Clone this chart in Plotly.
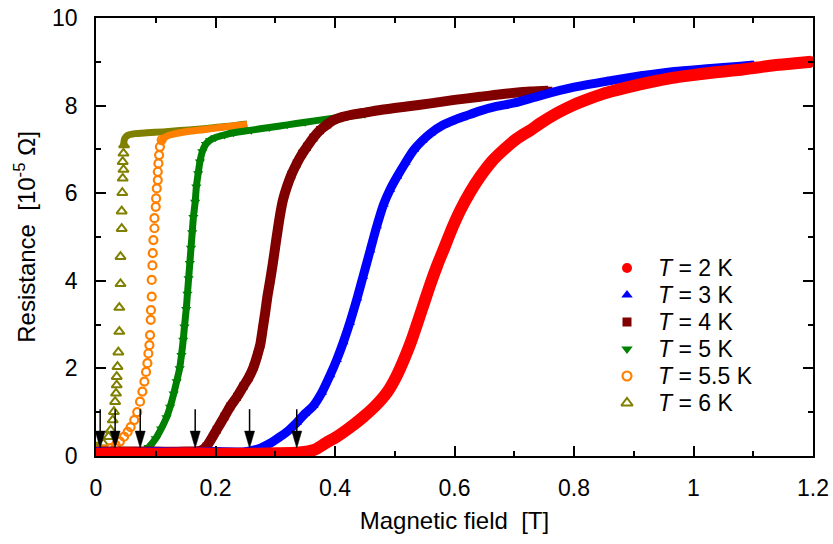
import plotly.graph_objects as go

# ---------------- data ----------------
b_2K = [0.0, 0.05, 0.1, 0.15, 0.2, 0.25, 0.3, 0.34, 0.365, 0.385, 0.403, 0.425, 0.448, 0.468,
        0.487, 0.502, 0.515, 0.527, 0.537, 0.548, 0.56, 0.571, 0.582, 0.596, 0.61, 0.626, 0.643,
        0.662, 0.683, 0.705, 0.727, 0.744, 0.772, 0.8, 0.828, 0.856, 0.884, 0.912, 0.94, 0.968,
        0.995, 1.023, 1.051, 1.079, 1.107, 1.135, 1.166, 1.197]
r_2K = [0.05, 0.06, 0.05, 0.06, 0.05, 0.05, 0.06, 0.08, 0.14, 0.3, 0.44, 0.65, 0.9, 1.15,
        1.45, 1.8, 2.19, 2.6, 3.0, 3.45, 3.94, 4.35, 4.72, 5.2, 5.62, 6.02, 6.38,
        6.72, 7.0, 7.25, 7.44, 7.6, 7.83, 8.02, 8.17, 8.3, 8.4, 8.49, 8.57, 8.64,
        8.69, 8.74, 8.78, 8.82, 8.87, 8.92, 8.96, 9.0]

b_3K = [0.0, 0.05, 0.1, 0.15, 0.2, 0.25, 0.275, 0.29, 0.308, 0.322, 0.336, 0.35, 0.364, 0.378,
        0.392, 0.403, 0.414, 0.425, 0.437, 0.447, 0.459, 0.47, 0.4815, 0.492, 0.504, 0.518,
        0.532, 0.546, 0.56, 0.58, 0.6, 0.62, 0.643, 0.67, 0.7, 0.744, 0.8, 0.856, 0.912, 0.968,
        1.023, 1.079, 1.1]
r_3K = [0.1, 0.08, 0.1, 0.09, 0.1, 0.1, 0.18, 0.28, 0.44, 0.58, 0.76, 0.97, 1.15, 1.45,
        1.85, 2.2, 2.6, 3.05, 3.6, 4.1, 4.7, 5.25, 5.75, 6.08, 6.38, 6.7,
        6.99, 7.2, 7.37, 7.55, 7.67, 7.77, 7.88, 7.98, 8.06, 8.23, 8.42, 8.56, 8.68, 8.78,
        8.84, 8.9, 8.93]

b_4K = [0.0, 0.05, 0.1, 0.15, 0.175, 0.185, 0.202, 0.215, 0.2246, 0.236, 0.247, 0.256, 0.264,
        0.27, 0.275, 0.279, 0.283, 0.287, 0.2916, 0.296, 0.3, 0.304, 0.308, 0.313, 0.3196,
        0.327, 0.336, 0.345, 0.353, 0.364, 0.375, 0.387, 0.398, 0.415, 0.431, 0.45, 0.476,
        0.52, 0.56, 0.6, 0.643, 0.685, 0.727, 0.757]
r_4K = [0.1, 0.1, 0.1, 0.1, 0.12, 0.22, 0.6, 0.9, 1.13, 1.35, 1.6, 1.8, 2.04,
        2.3, 2.55, 2.9, 3.26, 3.65, 4.02, 4.4, 4.78, 5.15, 5.5, 5.85, 6.15,
        6.42, 6.68, 6.9, 7.06, 7.27, 7.44, 7.57, 7.67, 7.75, 7.8, 7.84, 7.9,
        7.98, 8.05, 8.13, 8.2, 8.27, 8.32, 8.34]

b_5K = [0.0, 0.04, 0.075, 0.088, 0.1, 0.109, 0.118, 0.124, 0.13, 0.135, 0.14, 0.143, 0.146,
        0.148, 0.151, 0.153, 0.155, 0.157, 0.159, 0.161, 0.163, 0.166, 0.168, 0.171, 0.174,
        0.178, 0.184, 0.191, 0.2, 0.215, 0.23, 0.26, 0.29, 0.32, 0.35, 0.38, 0.42, 0.45]
r_5K = [0.05, 0.05, 0.08, 0.2, 0.4, 0.62, 0.88, 1.12, 1.42, 1.7, 2.0, 2.3, 2.65,
        2.95, 3.35, 3.7, 4.05, 4.4, 4.75, 5.1, 5.45, 5.8, 6.15, 6.45, 6.72,
        6.95, 7.12, 7.21, 7.27, 7.33, 7.38, 7.44, 7.5, 7.56, 7.62, 7.68, 7.75, 7.8]

b_55K_steep = [0.0, 0.012, 0.024, 0.033, 0.04, 0.047, 0.053, 0.058, 0.064, 0.069, 0.0737, 0.0776,
               0.081, 0.0838, 0.086, 0.0877, 0.0894, 0.0905, 0.0916, 0.092, 0.0933, 0.0933,
               0.0944, 0.095, 0.096, 0.0978, 0.0978, 0.1, 0.1006, 0.1017, 0.1034, 0.1034,
               0.1045, 0.1056, 0.107, 0.11]
r_55K_steep = [0.12, 0.14, 0.18, 0.25, 0.33, 0.44, 0.55, 0.66, 0.82, 1.0, 1.24, 1.47,
               1.7, 1.92, 2.12, 2.34, 2.53, 2.76, 3.11, 3.33, 3.64, 4.02,
               4.35, 4.63, 4.93, 5.2, 5.43, 5.69, 5.88, 6.11, 6.3, 6.49,
               6.68, 6.87, 7.06, 7.22]
b_55K_flat = [0.108, 0.112, 0.118, 0.13, 0.141, 0.16, 0.18, 0.197, 0.22, 0.247, 0.253]
r_55K_flat = [7.1, 7.24, 7.3, 7.35, 7.38, 7.42, 7.45, 7.48, 7.52, 7.56, 7.57]

b_6K_steep = [0.0, 0.004, 0.012, 0.021, 0.0246, 0.028, 0.03, 0.032, 0.0335, 0.0347, 0.0347,
              0.036, 0.0374, 0.039, 0.039, 0.041, 0.041, 0.043, 0.043, 0.044, 0.0447, 0.046,
              0.0447, 0.046, 0.047]
r_6K_steep = [0.2, 0.21, 0.29, 0.44, 0.59, 0.82, 1.01, 1.24, 1.43, 1.62, 1.81,
              2.04, 2.37, 2.84, 3.39, 3.93, 4.55, 5.19, 5.59, 6.01, 6.34, 6.54,
              6.72, 6.91, 7.1]
b_6K_flat = [0.046, 0.048, 0.053, 0.065, 0.085, 0.112, 0.14, 0.17, 0.2, 0.23, 0.253]
r_6K_flat = [7.05, 7.25, 7.32, 7.36, 7.38, 7.4, 7.43, 7.46, 7.5, 7.54, 7.58]

# fields marked by the arrows (onset of resistance)
arrow_fields = [0.007, 0.032, 0.074, 0.166, 0.257, 0.336]
arrow_tip_R = 0.18
arrow_tail_R = 1.07

series_labels = ["<i>T</i> = 2 K", "<i>T</i> = 3 K", "<i>T</i> = 4 K",
                 "<i>T</i> = 5 K", "<i>T</i> = 5.5 K", "<i>T</i> = 6 K"]

# ---------------- styling ----------------
FONT = "Liberation Sans, Arial, Helvetica, sans-serif"
W, H = 833, 544
ML, MR, MT, MB = 96, 20, 18, 88
PW, PH = W - ML - MR, H - MT - MB
XR = [0, 1.2]
YR = [0, 10]

styles = {
    "<i>T</i> = 2 K":   dict(color="#FF0000", symbol="circle", size=11, lw=12, mline=0),
    "<i>T</i> = 3 K":   dict(color="#0000FF", symbol="triangle-up", size=9, lw=9, mline=0),
    "<i>T</i> = 4 K":   dict(color="#800000", symbol="square", size=8, lw=10, mline=0),
    "<i>T</i> = 5 K":   dict(color="#008000", symbol="triangle-down", size=9, lw=7, mline=0),
    "<i>T</i> = 5.5 K": dict(color="#FF8000", symbol="circle-open", size=8, lw=7, mline=2.2),
    "<i>T</i> = 6 K":   dict(color="#808000", symbol="triangle-up-open", size=9, lw=7, mline=2),
}
legend_sizes = {
    "<i>T</i> = 2 K": 10, "<i>T</i> = 3 K": 10, "<i>T</i> = 4 K": 9,
    "<i>T</i> = 5 K": 10, "<i>T</i> = 5.5 K": 9, "<i>T</i> = 6 K": 10,
}

fig = go.Figure()

def add_series(name, bl, rl, bm, rm):
    s = styles[name]
    fig.add_trace(go.Scatter(x=bl, y=rl, mode="lines", showlegend=False, name=name,
                             line=dict(color=s["color"], width=s["lw"], shape="spline", smoothing=0.7),
                             hoverinfo="skip"))
    fig.add_trace(go.Scatter(x=bm, y=rm, mode="markers", name=name, showlegend=False,
                             marker=dict(color=s["color"], symbol=s["symbol"], size=s["size"],
                                         opacity=1,
                                         line=dict(color=s["color"], width=s["mline"]))))

# bottom to top (2 K drawn last, on top)
add_series("<i>T</i> = 6 K", b_6K_flat, r_6K_flat, b_6K_steep, r_6K_steep)
add_series("<i>T</i> = 5.5 K", b_55K_flat, r_55K_flat, b_55K_steep, r_55K_steep)
add_series("<i>T</i> = 5 K", b_5K, r_5K, b_5K, r_5K)
add_series("<i>T</i> = 4 K", b_4K, r_4K, b_4K, r_4K)
add_series("<i>T</i> = 3 K", b_3K, r_3K, b_3K, r_3K)
add_series("<i>T</i> = 2 K", b_2K, r_2K, b_2K, r_2K)

# ---- legend, laid out on an overlay axis measured in pixels of the plot area ----
LEG_MARK_X = 531      # marker centre, px from plot left
LEG_TEXT_X = 560      # text start
LEG_TOP = 250         # first row centre, px from plot top
LEG_STEP = 27         # row pitch
rows = list(range(len(series_labels)))
for i in rows:
    n = series_labels[i]
    s = styles[n]
    fig.add_trace(go.Scatter(
        x=[LEG_MARK_X], y=[LEG_TOP + LEG_STEP * i],
        xaxis="x2", yaxis="y2", mode="markers", showlegend=False, hoverinfo="skip", name=n,
        marker=dict(symbol=s["symbol"], color=s["color"], size=legend_sizes[n], opacity=1,
                    line=dict(color=s["color"], width=s["mline"]))))
annotations = [dict(xref="x2", yref="y2", x=LEG_TEXT_X, y=LEG_TOP + LEG_STEP * i,
                    text=series_labels[i], showarrow=False, xanchor="left", yanchor="middle",
                    height=LEG_STEP - 1, valign="middle",
                    font=dict(family=FONT, size=23, color="black"))
               for i in rows]

# ---- arrows (shaft + filled head) in data coordinates ----
px_per_T = PW / (XR[1] - XR[0])
px_per_R = PH / (YR[1] - YR[0])
head_half_w = 5.0 / px_per_T
head_len = 17 / px_per_R
shapes = []
for b in arrow_fields:
    base = arrow_tip_R + head_len
    shapes.append(dict(type="line", xref="x", yref="y", x0=b, x1=b, y0=arrow_tail_R, y1=base,
                       line=dict(color="black", width=1.5)))
    shapes.append(dict(type="path", xref="x", yref="y",
                       path=f"M {b - head_half_w},{base} L {b + head_half_w},{base} L {b},{arrow_tip_R} Z",
                       fillcolor="black", line=dict(color="black", width=0.5)))

axis_common = dict(showline=True, linecolor="black", linewidth=1.5, mirror="allticks",
                   ticks="inside", ticklen=10, tickwidth=1.5, tickcolor="black",
                   showgrid=False, zeroline=False, automargin=False,
                   ticklabeloverflow="allow",
                   tickfont=dict(family=FONT, size=23, color="black"))

fig.update_layout(
    template="none",
    width=W, height=H,
    margin=dict(l=ML, r=MR, t=MT, b=MB),
    paper_bgcolor="white", plot_bgcolor="white",
    font=dict(family=FONT, color="black"),
    shapes=shapes,
    annotations=annotations,
    showlegend=False,
    hovermode=False,
    xaxis=dict(range=XR, dtick=0.2, tick0=0,
               minor=dict(dtick=0.1, ticklen=5, tickwidth=1.5, tickcolor="black", ticks="inside"),
               ticklabelstandoff=11,
               title=dict(text="Magnetic field\u00a0\u00a0[T]", font=dict(family=FONT, size=24),
                          standoff=12),
               **axis_common),
    yaxis=dict(range=YR, dtick=2, tick0=0,
               minor=dict(dtick=1, ticklen=5, tickwidth=1.5, tickcolor="black", ticks="inside"),
               ticklabelstandoff=12,
               title=dict(text="Resistance\u00a0\u00a0[10<sup>-5</sup>\u00a0\u03a9]",
                          font=dict(family=FONT, size=24), standoff=10),
               **axis_common),
    xaxis2=dict(overlaying="x", range=[0, PW], visible=False, fixedrange=True),
    yaxis2=dict(overlaying="y", range=[PH, 0], visible=False, fixedrange=True),
)

# the page body has an 8 px default margin; remove it so the figure fills the window exactly
fig.write_html("out.html", config={"displayModeBar": False},
               post_script="document.body.style.margin='0';")
